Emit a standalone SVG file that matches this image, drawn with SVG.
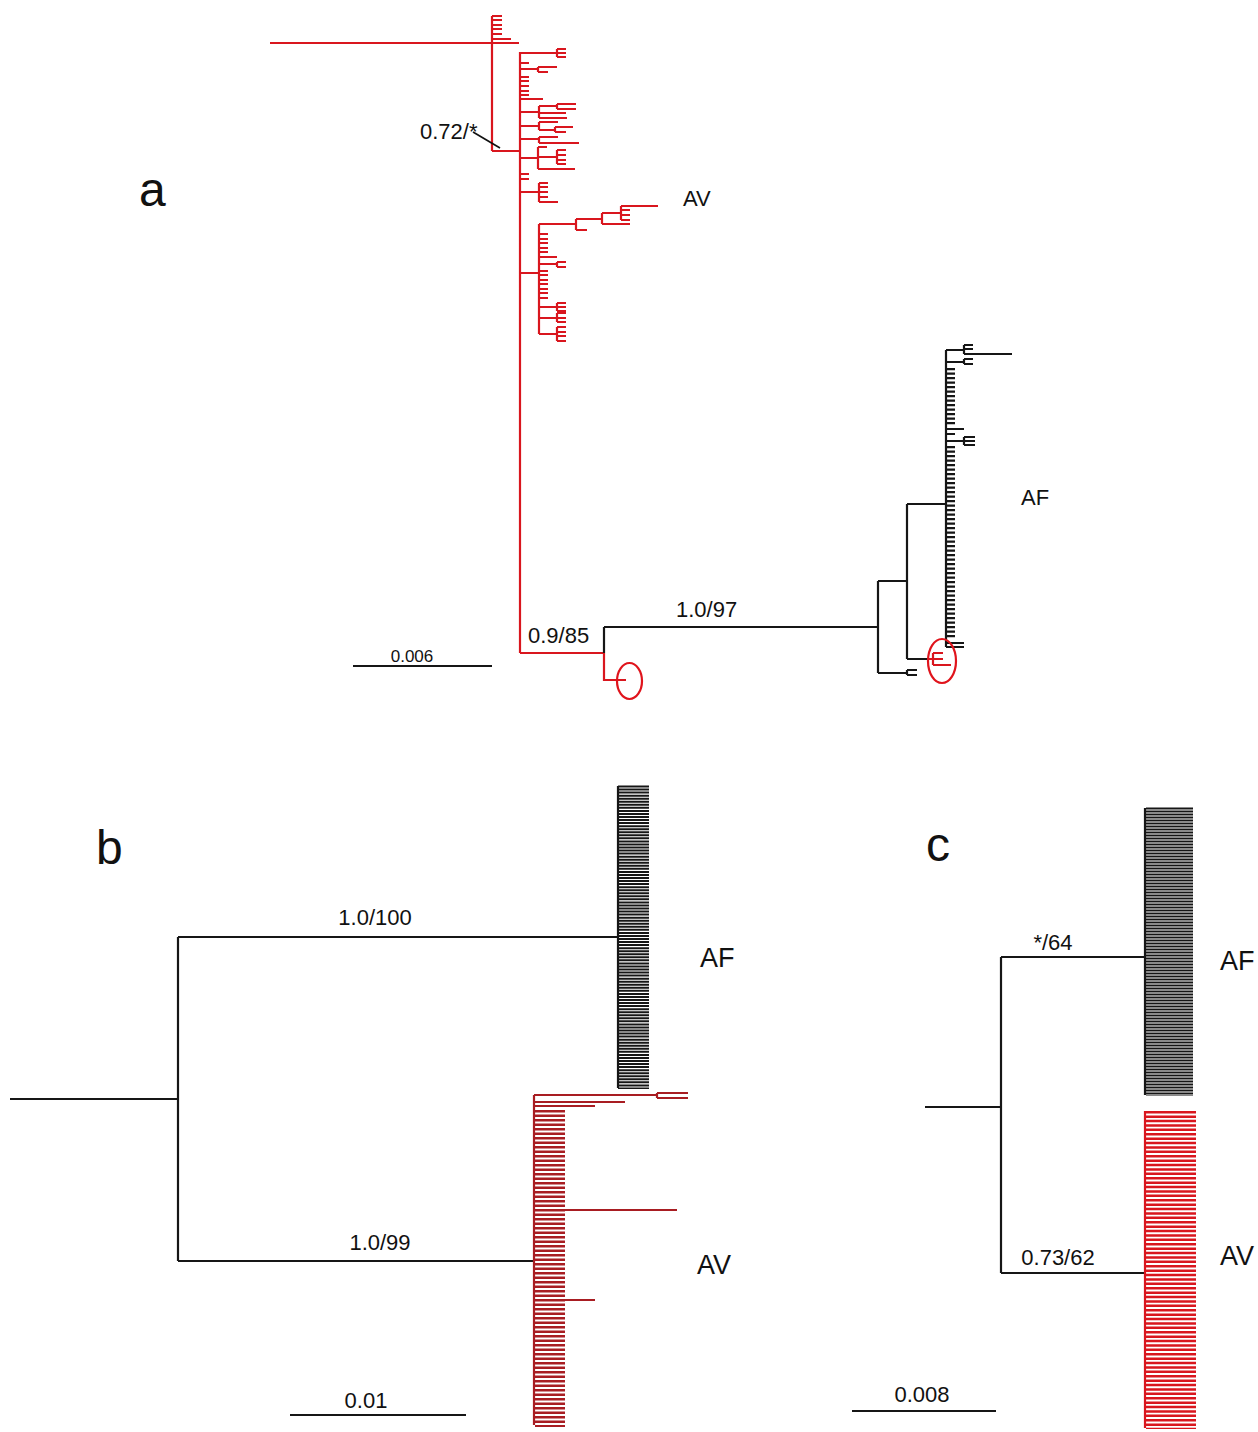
<svg xmlns="http://www.w3.org/2000/svg" width="1258" height="1432" viewBox="0 0 1258 1432">
<style>
.bk{fill:none;stroke:#161616;stroke-width:2.2}
.ra{fill:none;stroke:#d9161e;stroke-width:2.2}
.rb{fill:none;stroke:#a81d22;stroke-width:2.2}
.t{font-family:"Liberation Sans",Arial,sans-serif;fill:#111}
.lab{font-size:22px}
.pan{font-size:48px}
</style>
<rect width="1258" height="1432" fill="#fff"/>
<g id="panel-a">
 <g id="a-connectors">
  <path class="ra" d="M270 43H492 M492 16V151 M492 16H502 M492 20H502 M492 25H502 M492 29H502 M492 34H502 M492 39H511 M492 43H519
  M492 151H520 M520 52V653
  M520 53H557 M557 49V57 M557 49H566 M557 53H566 M557 57H566
  M520 63H529
  M520 69H538 M538 67V72 M538 67H557 M538 72H548
  M520 77H529 M520 81H529 M520 86H529 M520 91H529 M520 95H529 M520 99H543
  M520 112H539 M539 106V118 M539 106H557 M557 104V109 M557 104H576 M557 109H576 M539 113H566 M539 118H567
  M520 126H539 M539 122V130 M539 122H558 M539 130H555 M555 127V132 M555 127H573 M555 132H566
  M520 139H539 M539 137V143 M539 137H558 M539 143H579
  M520 158H538 M538 147V169 M538 147H547 M538 157H557 M557 150V164 M557 150H566 M557 155H566 M557 160H566 M557 164H566 M538 169H575
  M520 174H529 M520 179H529
  M520 192H539 M539 183V202 M539 183H548 M539 187H548 M539 192H548 M539 197H548 M539 202H558
  M520 273H539 M539 224V334
  M539 224H576 M576 219V230 M576 230H587 M576 219H602 M602 213V224 M602 224H630 M602 213H621 M621 206V220 M621 206H658 M621 210H630 M621 215H630 M621 220H630
  M539 234H548 M539 239H548 M539 243H548 M539 248H548 M539 252H548 M539 257H557
  M539 264H557 M557 262V267 M557 262H566 M557 267H566
  M539 271H548 M539 275H548 M539 280H548 M539 284H548 M539 289H548 M539 293H548 M539 298H548
  M539 307H557 M557 303V311 M557 303H566 M557 307H566 M557 311H566
  M539 318H557 M557 313V322 M557 313H566 M557 318H566 M557 322H566
  M539 334H557 M557 327V341 M557 327H566 M557 332H566 M557 336H566 M557 341H566
  M520 653H604 M604 653V680H626
  M929 659H933 M933 653V665 M933 653H943 M933 659H943 M933 665H951"/>
  <path class="bk" d="M604 627V653 M604 627H878 M878 581V673 M878 581H907 M878 673H907 M907 670V675 M907 670H917 M907 675H917 M907 504V659 M907 504H946 M907 659H929 M946 350V647 M946 350H964 M964 345V354 M964 345H973 M964 349H973 M964 354H1012 M946 362H964 M964 359V364 M964 359H973 M964 364H973 M946 429H964 M946 434H955 M946 441H964 M964 437V445 M964 437H975 M964 441H975 M964 445H975 M946 643H964 M946 647H964"/>
  <line x1="950.5" y1="368" x2="950.5" y2="426" stroke="#161616" stroke-width="9" stroke-dasharray="2.3 2.2"/>
  <line x1="950.5" y1="446" x2="950.5" y2="638" stroke="#161616" stroke-width="9" stroke-dasharray="2.3 2.2"/>
  <path d="M473 132L500 148" stroke="#111" stroke-width="1.6" fill="none"/>
 </g>
 <ellipse id="a-circle1" cx="629.5" cy="681" rx="12.5" ry="18" fill="none" stroke="#e0141c" stroke-width="2.2"/>
 <ellipse id="a-circle2" cx="942" cy="661" rx="14" ry="22" fill="none" stroke="#e0141c" stroke-width="2.2"/>
 <text class="t pan" x="139" y="206">a</text>
 <text class="t lab" x="420" y="139" font-size="21">0.72/*</text>
 <text class="t lab" x="683" y="206">AV</text>
 <text class="t lab" x="1021" y="505">AF</text>
 <text class="t lab" x="676" y="617">1.0/97</text>
 <text class="t lab" x="528" y="643">0.9/85</text>
 <g id="a-scale">
  <path class="bk" d="M353 666H492"/>
  <text class="t" x="412" y="662" font-size="17" text-anchor="middle">0.006</text>
 </g>
</g>
<g id="panel-b">
 <g id="b-connectors">
  <path class="bk" d="M10 1099H178 M178 937V1261 M178 937H618 M178 1261H534 M618 786V1088"/>
  <line x1="633.5" y1="785.5" x2="633.5" y2="1089" stroke="#161616" stroke-width="31" stroke-dasharray="2 1.05"/>
  <path class="rb" d="M534 1095V1425 M534 1095H657 M657 1093V1098 M657 1093H688 M657 1098H688 M534 1102H625 M534 1106H595 M534 1210H677 M534 1300H595"/>
  <line x1="550" y1="1110" x2="550" y2="1427" stroke="#a81d22" stroke-width="30" stroke-dasharray="2.5 2"/>
 </g>
 <text class="t pan" x="96" y="864">b</text>
 <text class="t lab" x="375" y="925" text-anchor="middle">1.0/100</text>
 <text class="t lab" x="380" y="1250" text-anchor="middle">1.0/99</text>
 <text class="t" x="700" y="967" font-size="27">AF</text>
 <text class="t" x="697" y="1274" font-size="27">AV</text>
 <g id="b-scale">
  <path class="bk" d="M290 1415H466"/>
  <text class="t lab" x="366" y="1408" text-anchor="middle">0.01</text>
 </g>
</g>
<g id="panel-c">
 <g id="c-connectors">
  <path class="bk" d="M925 1107H1001 M1001 957V1273 M1001 957H1145 M1001 1273H1145 M1145 808V1095"/>
  <line x1="1169.5" y1="807.5" x2="1169.5" y2="1096" stroke="#161616" stroke-width="47" stroke-dasharray="2 1"/>
  <path class="ra" d="M1145 1111V1428"/>
  <line x1="1171" y1="1111" x2="1171" y2="1429" stroke="#d9161e" stroke-width="50" stroke-dasharray="2.5 1.9"/>
 </g>
 <text class="t pan" x="926" y="861">c</text>
 <text class="t lab" x="1053" y="950" text-anchor="middle">*/64</text>
 <text class="t lab" x="1058" y="1265" text-anchor="middle">0.73/62</text>
 <text class="t" x="1220" y="970" font-size="27">AF</text>
 <text class="t" x="1220" y="1265" font-size="27">AV</text>
 <g id="c-scale">
  <path class="bk" d="M852 1411H996"/>
  <text class="t lab" x="922" y="1402" text-anchor="middle">0.008</text>
 </g>
</g>
</svg>
